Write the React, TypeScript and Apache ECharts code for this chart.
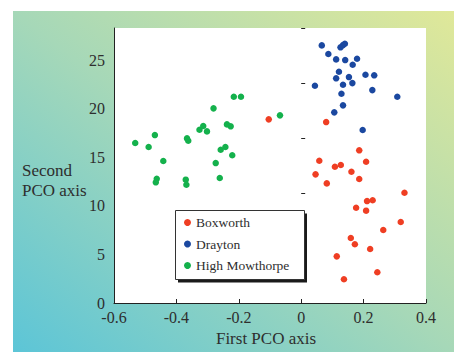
import React, { useEffect, useRef } from "react";
import * as echarts from "echarts";

const seriesNames = ["Boxworth", "Drayton", "High Mowthorpe"];

const boxworth: [number, number][] = [
  [-0.104, 18.9], [0.08, 18.62], [0.186, 15.71], [0.058, 14.64], [0.108, 14.02],
  [0.127, 14.2], [0.161, 13.51], [0.208, 14.54], [0.046, 13.24], [0.082, 12.31],
  [0.186, 12.76], [0.331, 11.35], [0.211, 10.49], [0.229, 10.57], [0.176, 9.8],
  [0.208, 9.5], [0.319, 8.33], [0.263, 7.51], [0.159, 6.69], [0.172, 6.04],
  [0.221, 5.56], [0.114, 4.8], [0.244, 3.16], [0.137, 2.44],
];

const drayton: [number, number][] = [
  [0.066, 26.51], [0.126, 26.31], [0.134, 26.54], [0.14, 26.68], [0.087, 25.62],
  [0.112, 25.07], [0.141, 25.0], [0.179, 25.13], [0.165, 24.52], [0.121, 23.8],
  [0.112, 23.12], [0.153, 23.25], [0.164, 22.63], [0.134, 22.46], [0.206, 23.49],
  [0.234, 23.43], [0.044, 22.36], [0.228, 21.91], [0.129, 21.53], [0.308, 21.22],
  [0.134, 20.34], [0.106, 19.62], [0.197, 17.8],
];

const highMowthorpe: [number, number][] = [
  [-0.532, 16.46], [-0.489, 16.05], [-0.469, 17.28], [-0.442, 14.61], [-0.463, 12.79],
  [-0.466, 12.42], [-0.37, 12.69], [-0.368, 12.17], [-0.366, 16.94], [-0.362, 16.7],
  [-0.326, 17.83], [-0.314, 18.21], [-0.302, 17.66], [-0.281, 20.03], [-0.274, 14.4],
  [-0.261, 12.86], [-0.258, 15.77], [-0.243, 16.05], [-0.238, 18.38], [-0.226, 18.18],
  [-0.221, 15.2], [-0.216, 21.22], [-0.193, 21.22], [-0.068, 19.31],
];

const seriesData = [boxworth, drayton, highMowthorpe];
const seriesColors = ["#ef3e23", "#1b48a0", "#14b14c"];

const xAxisTitle = "First PCO axis";
const yAxisTitle = "Second\nPCO axis";

const FONT = "'Liberation Serif', 'DejaVu Serif', serif";
const TEXT = "#2e2e2e";

export default function App() {
  const ref = useRef<HTMLDivElement>(null);

  useEffect(() => {
    if (!ref.current) return;
    const chart = echarts.init(ref.current, undefined, { renderer: "svg" });
    chart.setOption({
      animation: false,
      grid: {
        left: 114,
        right: 28,
        top: 28,
        bottom: 49,
        show: true,
        backgroundColor: "#ffffff",
        borderWidth: 0,
      },
      xAxis: {
        type: "value",
        min: -0.6,
        max: 0.4,
        interval: 0.2,
        axisLine: { show: true, onZero: false, lineStyle: { color: "#222", width: 1 } },
        axisTick: { show: true, inside: true, length: 4, lineStyle: { color: "#222" } },
        splitLine: { show: false },
        axisLabel: { fontSize: 16, lineHeight: 12, color: TEXT, fontFamily: FONT, margin: 8 },
      },
      yAxis: [
        {
          type: "value",
          min: 0,
          max: 28.3,
          interval: 5,
          axisLine: { show: true, onZero: false, lineStyle: { color: "#222", width: 1 } },
          axisTick: { show: false },
          splitLine: { show: false },
          axisLabel: {
            fontSize: 16,
            lineHeight: 12,
            color: TEXT,
            fontFamily: FONT,
            margin: 9,
            showMaxLabel: false,
          },
        },
        {
          type: "value",
          position: "left",
          min: 0,
          max: 25,
          interval: 5,
          axisLine: { show: false },
          axisTick: { show: true, inside: true, length: 4, lineStyle: { color: "#222" } },
          splitLine: { show: false },
          axisLabel: { show: false },
        },
      ],
      legend: {
        orient: "vertical",
        left: 184,
        top: 215.5,
        padding: 0,
        itemWidth: 7,
        itemHeight: 7,
        itemGap: 7.5,
        itemTextGap: 8,
        icon: "circle",
        z: 6,
        textStyle: { fontSize: 13.5, lineHeight: 14, color: TEXT, fontFamily: FONT },
        data: seriesNames,
      },
      graphic: [
        {
          type: "rect",
          z: -100,
          shape: { x: 13, y: 11, width: 441, height: 341 },
          style: {
            fill: new echarts.graphic.LinearGradient(0, 1, 1, 0, [
              { offset: 0, color: "#5cc5d7" },
              { offset: 0.5, color: "#a6d8b8" },
              { offset: 1, color: "#e0e899" },
            ]),
          },
          silent: true,
        },
        {
          type: "rect",
          z: 3,
          shape: { x: 178, y: 213.5, width: 129, height: 69 },
          style: { fill: "#1a1a1a" },
          silent: true,
        },
        {
          type: "rect",
          z: 4,
          shape: { x: 175.5, y: 210.5, width: 129, height: 69 },
          style: { fill: "#ffffff", stroke: "#333", lineWidth: 1 },
          silent: true,
        },
        {
          type: "text",
          z: 5,
          x: 22,
          y: 161,
          style: {
            text: yAxisTitle,
            font: `17px ${FONT}`,
            fill: TEXT,
            lineHeight: 19.5,
            align: "left",
            verticalAlign: "top",
          },
        },
        {
          type: "text",
          z: 5,
          x: 266,
          y: 338,
          style: {
            text: xAxisTitle,
            font: `17px ${FONT}`,
            fill: TEXT,
            align: "center",
            verticalAlign: "middle",
          },
        },
      ],
      series: seriesNames.map((name, i) => ({
        name,
        type: "scatter",
        yAxisIndex: 0,
        symbol: "circle",
        symbolSize: 6.5,
        itemStyle: { color: seriesColors[i], opacity: 1 },
        data: seriesData[i],
        z: 2,
      })),
    });
    return () => chart.dispose();
  }, []);

  return (
    <div
      ref={ref}
      style={{ position: "fixed", left: 0, top: 0, width: 454, height: 352, background: "#fff" }}
    />
  );
}
